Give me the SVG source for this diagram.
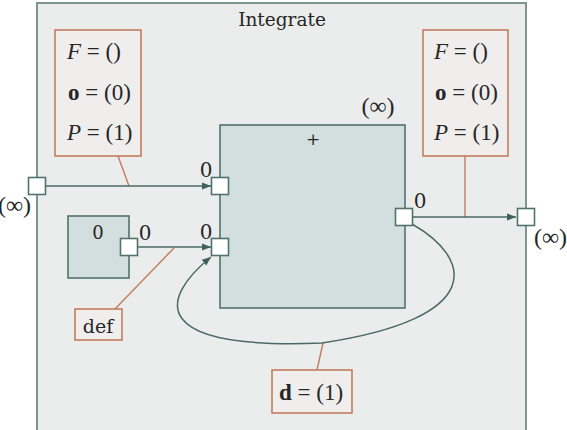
<svg xmlns="http://www.w3.org/2000/svg" width="567" height="430" viewBox="0 0 567 430">
<defs>
<marker id="arr" viewBox="0 0 10 10" refX="10" refY="5" markerWidth="9" markerHeight="9" markerUnits="userSpaceOnUse" orient="auto">
<path d="M0,1 L10,5 L0,9 z" fill="#3f615a"/>
</marker>
</defs>
<style>
.outer{fill:#ebeded;stroke:#7d9690;stroke-width:2}
.box{fill:#d3dede;stroke:#52726c;stroke-width:1.6}
.port{fill:#ffffff;stroke:#52726c;stroke-width:1.6}
.ann{fill:#efeeed;stroke:#c47c5e;stroke-width:1.6}
.annl{stroke:#c47c5e;stroke-width:1.4;fill:none}
.edge{stroke:#4a6a64;stroke-width:1.5;fill:none}
text{font-family:"DejaVu Serif","Liberation Serif",serif;fill:#262626}
.eq{font-family:"Liberation Serif","DejaVu Serif",serif;font-size:23px}
.inf{font-family:"Liberation Serif","DejaVu Serif",serif;font-size:24px}
.lbl{font-size:20px}
</style>
<g id="integrate">
<rect class="outer" x="37" y="3" width="489" height="440"/>
<text x="282" y="26" font-size="18.5" text-anchor="middle">Integrate</text>
</g>
<g id="annot-left">
<rect class="ann" x="55" y="30" width="86" height="126"/>
<text class="eq" x="67" y="59"><tspan font-style="italic">F</tspan> = ()</text>
<text class="eq" x="68" y="100"><tspan font-weight="bold">o</tspan> = (0)</text>
<text class="eq" x="67" y="140"><tspan font-style="italic">P</tspan> = (1)</text>
</g>
<g id="annot-right">
<rect class="ann" x="423" y="30" width="85" height="126"/>
<text class="eq" x="434" y="59"><tspan font-style="italic">F</tspan> = ()</text>
<text class="eq" x="435" y="100"><tspan font-weight="bold">o</tspan> = (0)</text>
<text class="eq" x="434" y="140"><tspan font-style="italic">P</tspan> = (1)</text>
</g>
<g id="plus">
<rect class="box" x="220" y="125" width="185" height="183"/>
<text x="313" y="145" font-size="17" text-anchor="middle">+</text>
<text class="inf" x="378" y="114" text-anchor="middle">(∞)</text>
</g>
<g id="zero">
<rect class="box" x="68" y="216" width="61" height="62"/>
<text x="98" y="239" font-size="18" text-anchor="middle">0</text>
</g>
<g id="def">
<rect class="ann" x="75" y="309" width="47" height="31"/>
<text x="98" y="333" font-size="19" text-anchor="middle">def</text>
</g>
<g id="delay">
<rect class="ann" x="272" y="370" width="80" height="43"/>
<text class="eq" x="311" y="400" text-anchor="middle"><tspan font-weight="bold">d</tspan> = (1)</text>
</g>
<g id="connectors">
<line class="annl" x1="118" y1="156" x2="129" y2="186"/>
<line class="annl" x1="465" y1="156" x2="465" y2="217"/>
<line class="annl" x1="115" y1="309" x2="174" y2="248"/>
<line class="annl" x1="317" y1="370" x2="323" y2="343"/>
<line class="edge" x1="45" y1="186" x2="211" y2="186" marker-end="url(#arr)"/>
<line class="edge" x1="138" y1="247" x2="211" y2="247" marker-end="url(#arr)"/>
<line class="edge" x1="413" y1="217" x2="516" y2="217" marker-end="url(#arr)"/>
<path class="edge" d="M412,224 C472,258 488,318 322,343 C150,350 158,300 211,257" marker-end="url(#arr)"/>
</g>
<g id="ports">
<rect class="port" x="28.5" y="177.5" width="17" height="17"/>
<text class="inf" x="31" y="213" text-anchor="end">(∞)</text>
<rect class="port" x="211.5" y="177.5" width="17" height="17"/>
<text class="lbl" x="206" y="177" text-anchor="middle">0</text>
<rect class="port" x="211.5" y="238.5" width="17" height="17"/>
<text class="lbl" x="206" y="239" text-anchor="middle">0</text>
<rect class="port" x="120.5" y="238.5" width="17" height="17"/>
<text class="lbl" x="145" y="240" text-anchor="middle">0</text>
<rect class="port" x="395.5" y="208.5" width="17" height="17"/>
<text class="lbl" x="420" y="208" text-anchor="middle">0</text>
<rect class="port" x="517.5" y="208.5" width="17" height="17"/>
<text class="inf" x="534" y="245">(∞)</text>
</g>
</svg>
